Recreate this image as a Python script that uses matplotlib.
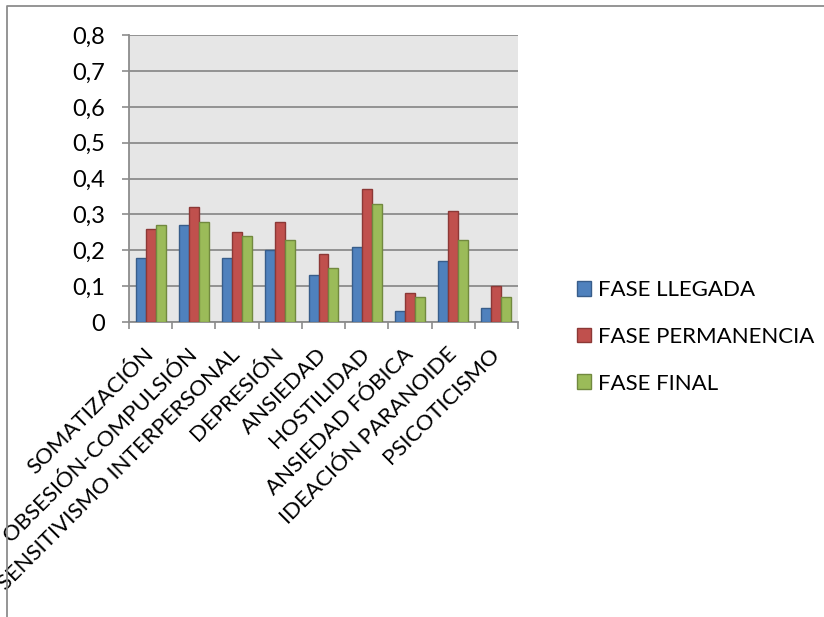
import numpy as np
import matplotlib
matplotlib.use('Agg')
import matplotlib.pyplot as plt
from matplotlib.lines import Line2D
from matplotlib.ticker import FixedLocator, FuncFormatter

plt.rcParams['font.family'] = ['Lato', 'DejaVu Sans']

categories = ['SOMATIZACIÓN', 'OBSESIÓN-COMPULSIÓN', 'SENSITIVISMO INTERPERSONAL',
              'DEPRESIÓN', 'ANSIEDAD', 'HOSTILIDAD', 'ANSIEDAD FÓBICA',
              'IDEACIÓN PARANOIDE', 'PSICOTICISMO']
fase_llegada = [0.18, 0.27, 0.18, 0.20, 0.13, 0.21, 0.03, 0.17, 0.04]
fase_permanencia = [0.26, 0.32, 0.25, 0.28, 0.19, 0.37, 0.08, 0.31, 0.10]
fase_final = [0.27, 0.28, 0.24, 0.23, 0.15, 0.33, 0.07, 0.23, 0.07]
series_names = ['FASE LLEGADA', 'FASE PERMANENCIA', 'FASE FINAL']
y_ticks = [0, 0.1, 0.2, 0.3, 0.4, 0.5, 0.6, 0.7, 0.8]

fills = ['#4F81BD', '#C0504D', '#9BBB59']
edges = ['#385D8A', '#8C3836', '#71893F']

fig = plt.figure(figsize=(8.24, 6.17), dpi=100)
ax = fig.add_axes([0.1566, 0.478, 0.4720, 0.465])
ax.set_facecolor('#E6E6E6')

x = np.arange(len(categories))
width = 0.231
for i, vals in enumerate([fase_llegada, fase_permanencia, fase_final]):
    ax.bar(x + (i - 1) * width, vals, width, color=fills[i], edgecolor=edges[i],
           linewidth=1.0, label=series_names[i], zorder=3)

ax.set_xlim(-0.5, len(categories) - 0.5)
ax.set_ylim(0, 0.8)
ax.yaxis.set_major_locator(FixedLocator(y_ticks))
ax.yaxis.set_major_formatter(FuncFormatter(lambda v, p: '0' if v == 0 else '{:.1f}'.format(v).replace('.', ',')))
ax.grid(axis='y', color='#8C8C8C', linewidth=1.3, zorder=1)

# category labels under the groups, boundaries marked by minor ticks
ax.set_xticks(x)
ax.set_xticklabels(categories, rotation=45, ha='right', va='center', rotation_mode='anchor')
ax.set_xticks(np.arange(len(categories) + 1) - 0.5, minor=True)
ax.tick_params(axis='x', which='major', length=0, pad=21, labelsize=16)
ax.tick_params(axis='x', which='minor', length=5, width=1.2, color='#8C8C8C', direction='out')
ax.tick_params(axis='y', length=5, width=1.2, color='#8C8C8C', pad=12, labelsize=17)

for side in ['top', 'right']:
    ax.spines[side].set_visible(False)
for side in ['left', 'bottom']:
    ax.spines[side].set_color('#8C8C8C')
    ax.spines[side].set_linewidth(1.3)

fig.legend(loc='center left', bbox_to_anchor=(0.700, 0.454), frameon=False,
           fontsize=16, handlelength=0.64, handleheight=0.64, handletextpad=0.3,
           labelspacing=1.2, borderpad=0, borderaxespad=0)

# chart area border
fig.add_artist(Line2D([0.0085, 0.0085, 1.0], [0.0, 0.990, 0.990],
                      transform=fig.transFigure, color='#8C8C8C', linewidth=1.3))

fig.savefig('out.png', dpi=100)
